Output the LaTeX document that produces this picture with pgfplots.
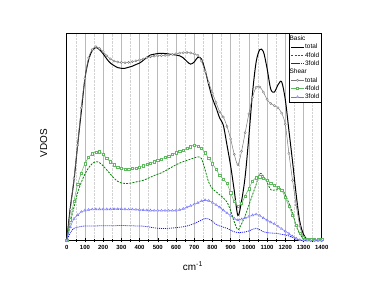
\documentclass[border=0pt]{standalone}
\usepackage{pgfplots}
\pgfplotsset{compat=1.18}
\usepackage{pgfplotstable}
\usepackage{fontspec}
\setmainfont{Liberation Sans}
\definecolor{dgreen}{RGB}{0,128,0}
\definecolor{lgreen}{RGB}{95,185,95}
\definecolor{lblue}{RGB}{110,110,255}
\definecolor{dblue}{RGB}{20,20,255}
\definecolor{sgray}{RGB}{120,120,120}

\pgfplotstableread{
x bt b4 b3 st s4 s3
0 0 0 0 0 0 0
20 16 9 3.8 15 10 6.5
40 29 16 5.9 30 19 10.5
60 46 23 6.4 46 27 12.3
80 62 28 6.8 64 32.5 13.8
100 78 32 7.0 78 37 14.5
120 87 35 7.0 88 40 14.8
140 91.5 37 7.0 92 41.8 15.0
160 93 38 7.0 93.4 42.6 15.1
180 92 37.5 7.1 92.5 42.8 15.1
200 90 36 7.1 91 41.5 15.1
220 87.5 34 7.1 89 39.5 15.1
240 85.5 32 7.1 87.5 38 15.1
260 84.3 30 7.1 86.5 36.5 15.2
280 83.3 28.5 7.2 86 35.3 15.2
300 83 27.7 7.2 85.8 34.7 15.2
320 83 27.5 7.2 85.7 34.5 15.1
340 83.5 27.5 7.1 85.8 34.5 15.0
360 84 27.8 7.1 86.2 34.7 15.0
380 84.8 28.2 7.0 86.6 35 14.9
400 85.5 28.6 7.0 87 35.5 14.8
420 86.8 29 6.9 87.5 36 14.7
440 88.2 29.7 6.7 88.1 36.6 14.6
460 89.4 30.5 6.4 88.6 37.3 14.5
480 89.8 31.3 6.1 88.8 38 14.4
500 90.1 32 5.9 89 38.7 14.4
520 90.2 32.6 5.8 89.1 39.3 14.4
540 90.1 33.5 5.8 89.2 40 14.4
560 89.9 34.5 5.9 89.4 40.7 14.4
580 89.6 35.5 6.0 89.7 41.5 14.4
600 89.4 36.5 6.2 90 42.3 14.5
620 89 37.3 6.4 90.3 43 14.8
640 88 38 6.6 90.5 43.6 15.3
660 86.3 38.6 7.0 90.6 44.3 16.0
680 85 39.2 7.5 90.4 45.2 16.7
700 86 39.8 8.2 90 46 17.4
720 88.3 40.3 9.0 89.2 45.5 18.2
740 87.5 39.5 9.8 86.5 44.3 19.0
760 82 34 10.6 81.5 42.3 19.5
780 75 28 10.4 76 39.5 19.2
800 68.5 25 9.2 71 37 18.3
820 64 23.5 7.8 66.5 34.3 17.2
840 59 22 7.0 62 31.5 16.0
860 55.5 20.5 6.4 59.5 29.5 14.6
880 46 18.5 5.9 55 27.5 13.2
900 36 14.5 5.0 49 23 12.0
920 24 9 4.2 41.5 18.8 10.6
940 12 5.2 3.8 36.5 16.5 9.9
960 19 8 3.9 43 18 10.2
980 31 12 4.1 52 21.5 10.8
1000 50 17 4.6 61 25 11.5
1020 71 22 5.4 69 28.5 12.2
1040 86 27 5.9 73.8 30.3 12.6
1060 92 32.4 5.2 74 30.7 12.0
1080 91 31 4.2 71.5 30 10.8
1100 83 28 3.8 68 29 9.8
1120 73 24.5 3.6 66 27.8 8.8
1140 71.5 24.3 3.5 65 26.5 8.0
1160 75 24.5 3.3 64 25.7 6.8
1180 76.5 25 3.0 61.4 24.3 5.6
1200 68 22 2.7 56 20.7 4.5
1220 53 18 2.2 42 16.5 3.3
1240 38 13.5 1.5 29 12.3 2.0
1260 22 7 0.7 17 7.5 1.0
1280 9 3 0.2 7 3.5 0.3
1300 3 1 0 1.5 1.5 0.1
1320 0.5 0.3 0 0.3 0.8 0
1340 0 0 0 0 0.6 0
1360 0 0 0 0 0.6 0
1380 0 0 0 0 0.6 0
1400 0 0 0 0 0.6 0
}\data

\begin{document}
\begin{tikzpicture}
\path[use as bounding box] (0,0) rectangle (374bp,289bp);
\begin{axis}[
  at={(66.7bp,48.5bp)}, anchor=south west,
  width=255bp, height=207.5bp, scale only axis,
  xmin=0, xmax=1400, ymin=0, ymax=100,
  xtick={0,100,...,1400}, minor x tick num=1,
  ytick=\empty,
  xtick pos=bottom, tick align=center,
  major tick length=4bp, minor tick length=2.5bp,
  every tick/.style={black, line width=0.5pt},
  xmajorgrids, xminorgrids,
  major grid style={gray!55, line width=0.6pt},
  minor grid style={gray!35, densely dotted, line width=0.5pt},
  axis line style={line width=0.6pt},
  /pgf/number format/assume math mode=true,
  /pgf/number format/set thousands separator={},
  xticklabel style={font=\fontsize{6}{7}\selectfont\bfseries, yshift=1bp},
  xlabel={cm\textsuperscript{-1}},
  ylabel={VDOS},
  xlabel style={font=\fontsize{10}{12}\selectfont, at={(axis description cs:0.495,-0.123)}, anchor=center},
  ylabel style={font=\fontsize{10}{12}\selectfont, at={(axis description cs:-0.09,0.47)}, anchor=center},
  legend image code/.code={\draw[mark repeat=2,mark phase=2,#1] plot coordinates {(0cm,0cm) (0.22cm,0cm) (0.44cm,0cm)};},
  legend cell align=left,
  legend style={at={(rel axis cs:1,1)}, anchor=north east, draw=black, line width=0.5pt, fill=white,
    font=\fontsize{6.5}{7}\selectfont, inner xsep=1.5bp, inner ysep=1.5bp, row sep=0.2bp,
    nodes={inner sep=0.8bp, text height=5bp, text depth=1.5bp}},
]
\addlegendimage{empty legend}\addlegendentry{\hspace*{-15.5bp}Basic}
\addplot[black, line width=1pt, smooth] table[x=x, y=bt] {\data};
\addlegendentry{total}
\addplot[dgreen, line width=0.8pt, dash pattern=on 2bp off 1.2bp, smooth] table[x=x, y=b4] {\data};
\addlegendentry{4fold}
\addplot[dblue, line width=0.8pt, dash pattern=on 1bp off 1bp, smooth] table[x=x, y=b3] {\data};
\addlegendentry{3fold}
\addlegendimage{empty legend}\addlegendentry{\hspace*{-15.5bp}Shear}
\addplot[sgray, line width=0.5pt, smooth, mark=*, mark size=1.1bp, mark options={solid, fill=white, line width=0.4pt}] table[x=x, y=st] {\data};
\addlegendentry{total}
\addplot[lgreen, line width=0.5pt, smooth, mark=square*, mark size=1.1bp, mark options={solid, fill=white, line width=0.4pt}] table[x=x, y=s4] {\data};
\addlegendentry{4fold}
\addplot[lblue, line width=0.5pt, smooth, mark=triangle*, mark size=1.3bp, mark options={solid, fill=white, line width=0.4pt}] table[x=x, y=s3] {\data};
\addlegendentry{3fold}
\end{axis}
\end{tikzpicture}
\end{document}
